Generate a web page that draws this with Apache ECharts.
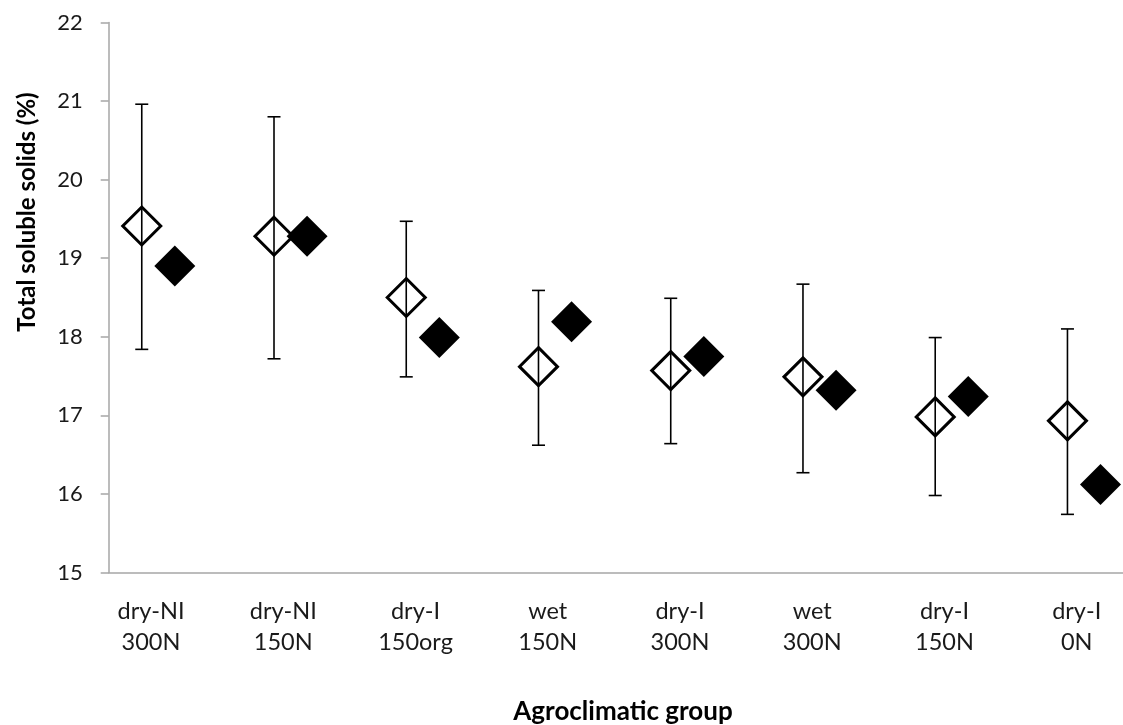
<!DOCTYPE html>
<html>
<head>
<meta charset="utf-8">
<script src="https://cdn.jsdelivr.net/npm/echarts@6/dist/echarts.min.js"></script>
<style>
html,body{margin:0;padding:0;background:#fff;}
#chart{width:1123px;height:725px;}
</style>
</head>
<body>
<div id="chart"></div>
<script>
// Data
const categories = ['dry-NI\n300N', 'dry-NI\n150N', 'dry-I\n150org', 'wet\n150N', 'dry-I\n300N', 'wet\n300N', 'dry-I\n150N', 'dry-I\n0N'];
const openMeans   = [19.41, 19.28, 18.50, 17.62, 17.57, 17.49, 16.98, 16.93];
const openUpper   = [20.96, 20.80, 19.47, 18.59, 18.49, 18.67, 17.99, 18.10];
const openLower   = [17.84, 17.72, 17.49, 16.62, 16.64, 16.27, 15.98, 15.74];
const filledMeans = [18.90, 19.28, 17.99, 18.19, 17.75, 17.32, 17.24, 16.12];
const yTicks = [15, 16, 17, 18, 19, 20, 21, 22];

const FILLED_SHIFT = 0.25;
const LABEL_SHIFT = 0.07;

const openData = openMeans.map((v, i) => [i, v]);
const filledData = filledMeans.map((v, i) => [i + FILLED_SHIFT, v]);
const errData = openMeans.map((v, i) => [i, openLower[i], openUpper[i]]);

const chart = echarts.init(document.getElementById('chart'), null, {renderer: 'canvas'});
const axisGray = '#a6a6a6';
const FONT = 'Lato, "Open Sans", sans-serif';

chart.setOption({
  animation: false,
  backgroundColor: '#fff',
  grid: {left: 108.7, right: 0, top: 22.5, bottom: 152.5, containLabel: false},
  xAxis: {
    type: 'value',
    min: -0.25,
    max: 7.42,
    splitLine: {show: false},
    axisLine: {show: true, onZero: false, lineStyle: {color: axisGray, width: 1.5}},
    axisTick: {show: false},
    axisLabel: {
      customValues: categories.map((c, i) => i + LABEL_SHIFT),
      formatter: function (v) { return categories[Math.round(v - LABEL_SHIFT)] || ''; },
      color: '#1a1a1a',
      fontFamily: FONT,
      fontSize: 23.5,
      lineHeight: 31,
      margin: 23,
      align: 'center'
    }
  },
  yAxis: {
    type: 'value',
    min: yTicks[0],
    max: yTicks[yTicks.length - 1],
    interval: 1,
    splitLine: {show: false},
    axisLine: {show: true, onZero: false, lineStyle: {color: axisGray, width: 1.5}},
    axisTick: {show: true, inside: false, length: 8, lineStyle: {color: axisGray, width: 1.5}},
    axisLabel: {color: '#1a1a1a', fontFamily: FONT, fontSize: 22, margin: 26}
  },
  graphic: [
    {
      type: 'text',
      x: 27, y: 212,
      rotation: Math.PI / 2,
      style: {
        text: 'Total soluble solids (%)',
        font: 'bold 24px ' + FONT,
        fill: '#000',
        align: 'center',
        verticalAlign: 'middle'
      }
    },
    {
      type: 'text',
      x: 623, y: 712,
      style: {
        text: 'Agroclimatic group',
        font: 'bold 26px ' + FONT,
        fill: '#000',
        align: 'center',
        verticalAlign: 'middle'
      }
    }
  ],
  series: [
    {
      type: 'custom',
      name: 'error',
      z: 3,
      data: errData,
      renderItem: function (params, api) {
        const x = api.value(0);
        const lo = api.coord([x, api.value(1)]);
        const hi = api.coord([x, api.value(2)]);
        const hw = 6.5;
        const st = {stroke: '#000', lineWidth: 1.6};
        return {
          type: 'group',
          children: [
            {type: 'line', shape: {x1: hi[0], y1: hi[1], x2: lo[0], y2: lo[1]}, style: st},
            {type: 'line', shape: {x1: hi[0] - hw, y1: hi[1], x2: hi[0] + hw, y2: hi[1]}, style: st},
            {type: 'line', shape: {x1: lo[0] - hw, y1: lo[1], x2: lo[0] + hw, y2: lo[1]}, style: st}
          ]
        };
      }
    },
    {
      type: 'scatter',
      name: 'open',
      z: 4,
      symbol: 'diamond',
      symbolSize: 38,
      data: openData,
      itemStyle: {color: 'rgba(255,255,255,0)', borderColor: '#000', borderWidth: 3, opacity: 1}
    },
    {
      type: 'scatter',
      name: 'filled',
      z: 5,
      symbol: 'diamond',
      symbolSize: 41,
      data: filledData,
      itemStyle: {color: '#000', borderWidth: 0, opacity: 1}
    }
  ]
});
</script>
</body>
</html>
